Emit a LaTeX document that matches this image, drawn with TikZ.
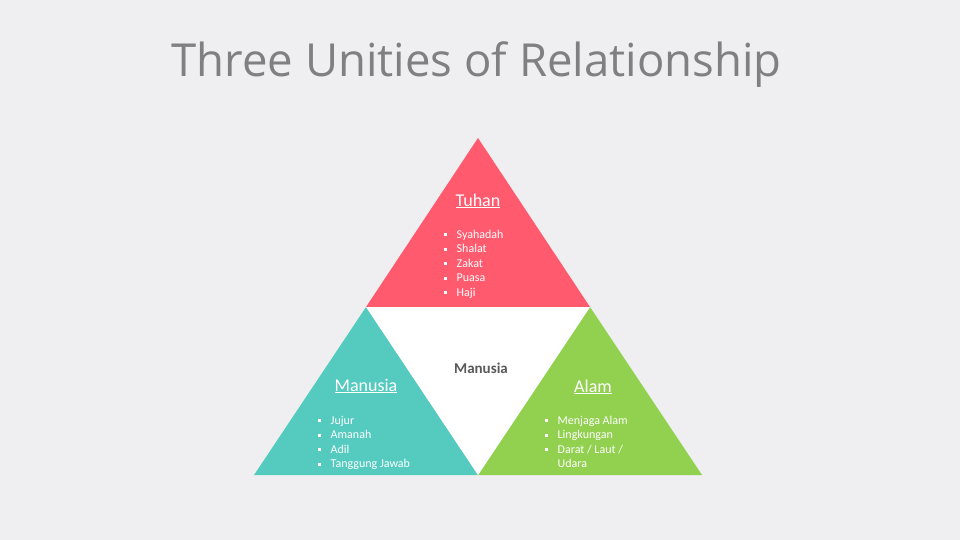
\documentclass[tikz,border=0pt]{standalone}
\usepackage{fontspec}
\setmainfont{Carlito}
\newfontfamily\titlefont{Open Sans}
\definecolor{bgcol}{HTML}{EFEEF0}
\definecolor{tuhancol}{HTML}{FF5A6E}
\definecolor{manusiacol}{HTML}{55CBC0}
\definecolor{alamcol}{HTML}{92D050}
\definecolor{titlecol}{HTML}{808080}
\definecolor{midcol}{HTML}{595959}
\newcommand{\bul}{\makebox[12.5pt][l]{\raisebox{2pt}{\rule{2.8pt}{2.8pt}}}}
\tikzset{
    head/.style={text=white,font=\fontsize{18}{20}\selectfont,inner sep=0pt,anchor=base},
    listitem/.style={text=white,font=\fontsize{12}{14}\selectfont,inner sep=0pt,anchor=base west},
}
\begin{document}
\begin{tikzpicture}[x=1pt,y=-1pt]
    \fill[bgcol] (0,0) rectangle (960,540);
    \useasboundingbox (0,0) rectangle (960,540);
    % corners of the pyramid
    \coordinate (top) at (478,138);
    \coordinate (midL) at (366,307);
    \coordinate (midR) at (590,307);
    \coordinate (botL) at (254,475);
    \coordinate (botM) at (478,475);
    \coordinate (botR) at (702,475);
    \fill[tuhancol] (top) -- (midL) -- (midR) -- cycle;
    \fill[manusiacol] (midL) -- (botL) -- (botM) -- cycle;
    \fill[alamcol] (midR) -- (botM) -- (botR) -- cycle;
    \fill[white] (midL) -- (midR) -- (botM) -- cycle;
    \node[text=titlecol,font=\titlefont\fontsize{45.5}{50}\selectfont,inner sep=0pt,anchor=base]
        (title) at (476.5,77) {Three Unities of Relationship};
    % top
    \node[head] (tuhan) at (478,206) {\underline{Tuhan}};
    \foreach \t [count=\i] in {Syahadah,Shalat,Zakat,Puasa,Haji}
        \node[listitem] (tuhan\i) at (444,{238+14.5*(\i-1)}) {\bul\t};
    % left
    \node[head] (manusia) at (366,391) {\underline{Manusia}};
    \foreach \t [count=\i] in {Jujur,Amanah,Adil,Tanggung Jawab}
        \node[listitem] (manusia\i) at (318,{424+14.5*(\i-1)}) {\bul\t};
    % right
    \node[head] (alam) at (593,392) {\underline{Alam}};
    \foreach \t [count=\i] in {Menjaga Alam,Lingkungan,Darat / Laut /}
        \node[listitem] (alam\i) at (545,{424+14.5*(\i-1)}) {\bul\t};
    \node[listitem] (alam4) at (557.5,467.5) {Udara};
    % middle
    \node[text=midcol,font=\bfseries\fontsize{15}{17}\selectfont,inner sep=0pt,anchor=base]
        (tengah) at (481,373) {Manusia};
\end{tikzpicture}
\end{document}
